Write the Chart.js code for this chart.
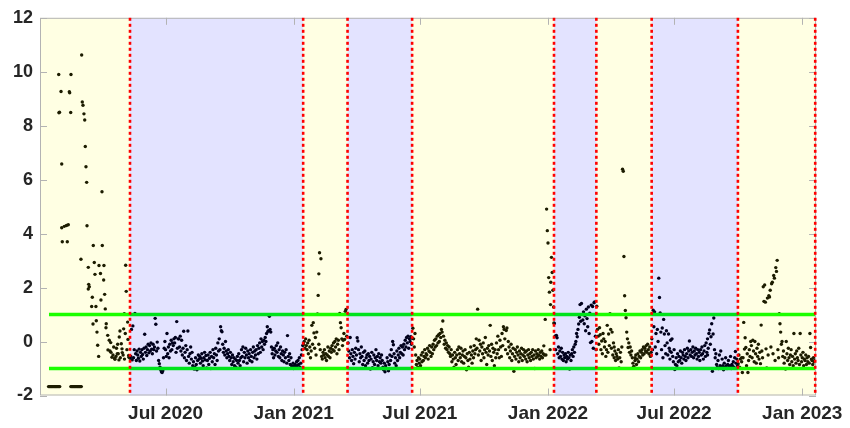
<!DOCTYPE html>
<html>
<head>
<meta charset="utf-8">
<script src="https://cdn.jsdelivr.net/npm/chart.js@4/dist/chart.umd.min.js"></script>
<style>
  html, body { margin: 0; padding: 0; background: #fff; }
  #wrap { width: 850px; height: 428px; }
</style>
</head>
<body>
<div id="wrap"><canvas id="chart"></canvas></div>
<script>
// x values are days counted from 1 Jan 2020
var xMin = 1.7, xMax = 1115.8;
var tickDays = [182, 366, 547, 731, 912, 1096];
var tickLabels = ['Jul 2020', 'Jan 2021', 'Jul 2021', 'Jan 2022', 'Jul 2022', 'Jan 2023'];

// red dotted period boundaries, shading alternates yellow / blue starting with yellow
var bandEdges = [130.9, 379.5, 443.2, 535.9, 739.6, 800.4, 879.8, 1003.6, 1114.6];
var limitLevels = [1, -1];
var limitFrom = 14.6, limitTo = 1114.6;

// flat values at the start
var flatDays = [14,15,16,17,18,19,20,21,22,23,24,25,26,27,28,29,30,
                46,47,48,49,50,51,52,53,54,55,56,57,58,59,60,61];
var flatValue = -1.67;

// first weeks, read point by point
var earlyDays = [28.6,46.2,61.5,31.9,43.8,44.3,29.7,28.9,45.8,62.4,63.4,64.8,65.9,66.7,32.9,67.7,68.7,90.7,
  32.9,36.6,39.7,42.3,69.2,33.7,40.9,78.2,91.1,60.5,79.6,71,86.4,93.5,124.7,80.6,88.5,93.1,
  71.6,72.5,71,125.5,76.8,94.5,89.2,75.9,82,95.4,122.7,82.5,77.8,96.8,96.4,127.5,83.5,121.8,116.5,
  124.1,98.9,101.1,103.2,115.5,118.4,113.2,119.4,128,84.5,85.9,99.3,102.2,103.6,106.5,108.9,110.8,
  112.6,115,105,109.3,119.8,129.4,129,126.5,117,121,111.5,107.5,114,123];
var earlyVals = [9.9,9.9,10.62,9.27,9.26,9.22,8.5,8.48,8.49,8.88,8.76,8.44,8.21,7.23,6.58,6.48,5.9,5.55,
  4.22,4.27,4.3,4.33,4.29,3.7,3.7,3.56,3.56,3.05,2.93,2.75,2.82,2.82,2.83,2.49,2.52,2.28,
  2.12,2.03,1.95,1.86,1.64,1.75,1.54,1.3,1.3,1.21,1.03,0.77,0.65,0.66,0.51,0.72,0.35,0.47,0.39,
  0.3,0.23,0.05,-0.04,0.17,-0.08,-0.1,-0.27,0.08,-0.14,-0.55,-0.31,-0.35,-0.4,-0.5,-0.62,-0.55,
  -0.45,-0.68,-0.58,-0.66,-0.41,-0.58,-0.52,-0.3,-0.6,-0.5,-0.25,-0.2,-0.45,-0.65];

// daily values, one array per period, each with its first day
var segStarts = [131, 380, 444, 537, 740, 801, 880, 1004];
var valsA = [
  -0.62,-0.55,0.45,-0.68,0.58,-0.6,-0.3,1.04,-0.45,-0.7,
  -0.35,-0.5,-0.62,-0.28,-0.72,-0.4,-0.55,-0.3,-0.48,-0.65,
  -0.25,0.27,-0.4,-0.2,-0.52,-0.3,-0.1,-0.42,-0.15,-0.35,
  -0.05,-0.28,-0.45,-0.1,-0.3,-0.2,0.86,0.64,-0.35,-0.02,
  -0.25,-0.7,-0.82,-0.95,-1.05,-1.12,-1.15,-1.08,-0.6,-0.25,
  0.0,-0.3,-0.55,0.3,-0.45,-0.2,-0.6,-0.1,-0.35,0.05,
  -0.3,-0.05,-0.15,0.1,-0.05,0.15,-0.4,0.74,-0.25,0.1,
  0.1,-0.2,0.2,-0.35,0.05,-0.5,-0.25,0.38,-0.6,-0.4,
  -0.15,-0.7,-0.3,0.39,-0.55,-0.8,-0.45,-0.2,-0.65,-0.4,
  -0.9,-0.75,-1.02,-0.95,-0.6,-0.85,-1.05,-0.7,-0.5,-0.65,
  -0.55,-0.8,-0.62,-0.45,-0.72,-0.9,-0.6,-0.4,-0.68,-0.52,
  -0.98,-0.7,-0.5,-0.85,-0.62,-0.4,-1.0,-0.55,-0.75,-0.3,
  -0.6,-0.45,-0.85,-0.25,-0.5,-0.7,-0.05,-0.35,0.1,-0.3,
  0.55,0.4,0.36,-0.1,-0.4,-0.25,-0.5,0.0,-0.35,-0.6,
  -0.45,-0.3,-0.55,-0.7,-0.4,-0.6,-0.85,-0.5,-0.75,-0.6,
  -0.9,-0.65,-0.95,-0.7,-0.55,-0.8,-0.45,-0.7,-0.9,-0.6,
  -0.3,-0.55,-0.2,-0.75,-0.4,-0.6,-0.25,-0.5,-0.8,-0.35,
  -0.6,-0.45,-0.7,-0.3,-0.55,-0.75,-0.4,-0.2,-0.6,-0.35,
  -0.5,-0.3,-0.65,-0.15,-0.45,-0.25,-0.05,-0.4,0.1,-0.2,
  0.0,-0.3,0.05,-0.1,0.15,0.0,0.3,0.55,0.38,0.4,
  0.94,0.45,0.35,-0.2,-0.45,-0.3,-0.6,-0.25,-0.5,-0.35,
  -0.15,-0.4,-0.05,-0.55,-0.3,-0.6,-0.2,-0.45,-0.7,-0.35,
  -0.5,-0.75,-0.4,-0.6,-0.3,-0.8,0.22,-0.55,-0.7,-0.45,
  -0.85,-0.6,-0.9,-0.95,-0.8,-1.0,-0.9,-0.85,-0.95,-0.75,
  -0.9,-0.7,-0.85,-0.6,-0.95,-0.8,-0.5,-0.3,-0.15];
var valsB = [
  -0.1,0.0,-0.25,0.1,-0.15,-0.3,-0.05,-0.45,0.05,-0.2,-0.6,
  -0.35,0.6,-0.1,0.7,0.32,-0.25,0.15,-0.5,0.35,1.02,
  1.71,-0.1,3.29,-0.3,3.07,-0.55,-0.65,-0.4,-0.5,-0.3,
  -0.6,-0.45,-0.7,-0.5,-0.2,-0.55,-0.35,-0.6,-0.25,-0.4,
  -0.15,-0.3,-0.05,-0.35,0.0,-0.2,0.1,-0.45,-0.1,0.05,
  -0.3,1.04,0.7,0.51,0.1,-0.15,0.05,0.3,0.08,1.12,1.19,0.2];
var valsC = [
  -0.05,-0.35,-0.6,0.15,-0.45,-0.7,-0.3,-0.55,-0.82,-0.4,
  -0.65,-0.25,-0.5,0.14,0.02,-0.3,-0.75,-0.45,-0.6,-0.2,
  -0.55,-0.85,-0.4,-0.7,-0.35,-0.9,-0.6,-0.5,-0.8,-0.45,
  -0.7,-0.55,-1.02,-0.65,-0.4,-0.97,-0.75,-0.5,-0.85,-0.6,
  -0.3,-0.7,-0.55,-0.9,-0.45,-0.75,-0.6,-0.8,-0.5,-0.7,
  -0.95,-1.05,-0.8,-1.12,-0.9,-1.0,-0.6,-0.75,-1.08,-0.85,
  -0.5,-0.7,-0.3,-0.55,0.0,-0.12,-0.45,-0.8,-0.6,-0.9,
  -0.35,-0.7,-0.5,-0.25,-0.6,-0.4,-0.15,-0.45,-0.2,-0.5,
  -0.1,-0.3,0.05,-0.2,0.15,-0.05,0.2,-0.25,0.1,0.0,0.18,-0.1,0.12];
var valsD = [
  0.49,0.1,-0.2,0.3,-0.5,-0.85,-0.7,-0.95,-0.6,-0.8,
  -0.65,-0.9,-0.5,-0.75,-0.4,-0.7,-0.55,-0.3,-0.6,-0.45,
  -0.5,-0.25,-0.65,-0.35,-0.15,-0.4,-0.55,-0.2,-0.45,-0.1,
  -0.3,0.05,-0.2,0.1,-0.15,0.2,-0.05,0.25,0.0,0.3,
  0.15,0.45,0.35,0.76,0.2,-0.1,0.05,-0.25,-0.05,-0.3,
  -0.15,-0.4,-0.2,-0.45,-0.55,-0.3,-0.75,-0.5,-0.65,-0.95,
  -0.4,-0.6,-0.85,-0.5,-0.3,-0.7,-0.2,-0.45,-0.6,-0.25,
  -0.75,-0.5,-0.35,-0.8,-0.55,-0.3,-0.6,-1.05,-0.45,-0.7,
  -0.95,-0.4,-0.65,-0.2,-0.5,-0.8,-0.35,-0.6,-0.15,-0.45,
  -0.3,0.1,-0.25,1.2,-0.5,0.05,-0.35,-0.1,-0.7,-0.2,
  -0.45,-0.05,-0.6,-0.3,0.15,-0.4,-0.85,-0.25,-0.5,-0.15,
  -0.35,0.6,-0.55,-0.1,-0.7,-0.25,-0.4,-0.9,-0.3,-0.6,
  -0.05,-0.45,0.2,-0.3,-0.6,0.05,-0.2,-0.55,0.3,-0.15,
  0.55,0.45,0.1,-0.3,0.41,0.5,-0.45,0.0,-0.2,-0.6,
  -0.35,-0.1,-0.7,-0.45,-0.25,-1.1,-0.55,-0.3,-0.65,-0.4,
  -0.2,-0.5,-0.75,-0.35,-0.6,-0.45,-0.25,-0.7,-0.5,-0.3,
  -0.55,-0.4,-0.65,-0.35,-0.75,-0.5,-0.3,-0.6,-0.45,-0.7,
  -0.4,-0.55,-0.3,-0.65,-0.5,-1.0,-0.35,-0.6,-0.45,-0.55,
  -0.3,-0.5,-0.65,-0.4,-0.55,-0.35,-0.6,-0.45,-0.16,-0.5,
  0.82,-0.5,4.91,4.11,3.65,2.37,1.83,-0.3,2.2,3.12,2.56,1.9,1.28];
var valsE = [
  0.67,0.2,-0.3,0.23,0.14,-0.45,-0.2,-0.6,-0.35,-0.55,
  -0.25,-0.65,-0.4,-0.7,-0.5,-0.6,-0.45,-0.75,-0.55,-0.65,
  -0.4,-0.6,-1.02,-0.5,-0.7,-0.45,-0.3,-0.55,-0.2,-0.4,
  -0.1,0.0,0.3,0.18,0.45,0.65,0.9,1.37,0.75,1.41,
  1.0,0.8,1.1,0.66,0.95,0.4,1.2,0.85,0.55,1.28,
  0.3,1.05,-0.04,1.35,0.0,1.3,-0.25,1.44,1.47,0.2,-0.3];
var valsF = [
  1.31,0.45,0.2,-0.1,0.51,0.25,-0.3,0.02,-0.45,0.3,
  0.1,-0.2,0.0,-0.55,-0.3,0.6,-0.4,0.28,-0.15,1.03,
  0.45,-0.25,0.35,-0.5,-0.05,-0.6,-0.35,-0.7,-0.45,-0.55,
  -0.65,-0.3,-0.98,-0.6,-0.4,-0.75,-0.2,6.39,6.31,3.15,
  1.7,1.15,0.88,0.35,0.1,-0.22,-0.05,-0.4,-0.2,-0.5,
  -0.35,-0.6,-0.8,-0.92,-0.98,-0.7,-0.5,-0.85,-0.65,-0.45,
  -0.75,-0.55,-0.35,-0.6,-0.4,-0.3,-0.5,-0.2,-0.45,-0.25,
  -0.35,-0.15,-0.4,-0.1,-0.3,-0.46,-0.2,-0.55,-0.4];
var valsG = [
  0.1,-0.3,1.16,0.55,1.1,-0.2,0.3,-0.45,0.45,0.0,
  2.35,1.63,1.06,0.35,-0.3,0.5,-0.6,0.82,0.28,-0.15,
  -0.45,0.4,-0.05,-0.5,0.28,-0.25,-0.65,0.05,-0.4,0.1,
  -0.55,-0.75,-0.3,-1.04,-0.85,-0.6,-0.9,-0.45,-0.75,-0.55,
  -0.7,-0.35,-0.6,-0.8,-0.4,-0.5,-0.65,-0.3,-0.55,-0.7,
  -0.45,-0.25,-0.6,-0.35,0.02,-0.5,-0.3,-0.55,-0.4,-0.2,
  -0.6,-0.35,-0.5,-0.25,-0.45,-0.65,-0.3,-0.55,-0.4,-0.7,
  -0.3,-0.5,-0.2,-0.45,-0.65,-0.35,-0.15,-0.55,-0.05,-0.4,
  0.1,-0.25,0.3,0.43,-0.1,0.18,0.66,-1.1,0.28,0.87,
  -0.3,-0.6,-0.45,-0.85,-0.95,-0.7,-1.0,-0.5,-0.9,-0.35,
  -0.95,-0.65,-0.9,-1.05,-0.8,-0.95,-0.6,-0.9,-1.0,-0.85,
  -0.7,-0.95,-0.9,-0.55,-1.0,-0.85,-0.92,-0.75,-0.95,-0.6,
  -0.37,-0.8,-0.65,-0.9];
var valsH = [
  -0.82,-0.5,-0.95,-0.65,-1.0,-0.75,-1.15,-0.6,0.71,-0.28,
  0.14,-0.22,-0.9,-0.45,-1.15,-0.7,-0.3,-0.55,0.0,-0.15,
  -0.6,0.05,-0.35,-0.75,0.0,-0.45,-0.8,-0.25,-0.55,-0.1,
  -0.65,-0.4,-0.82,0.61,-0.35,-0.6,2.03,1.49,2.1,1.46,
  -0.27,-0.98,1.61,-0.5,1.7,1.65,1.9,-0.2,2.14,2.2,
  -0.45,2.45,2.35,-0.7,2.74,2.6,3.01,-0.3,-0.6,1.03,
  0.66,0.35,-0.1,0.0,-0.55,-0.35,-0.8,-0.6,-1.02,0.0,
  -0.45,-0.7,-0.25,-0.6,-0.85,-0.5,-0.3,-0.75,-0.55,-0.9,
  0.3,-0.65,-0.45,-0.8,-0.35,-0.6,-0.7,-0.25,-0.85,0.3,
  -0.5,-0.75,-0.6,-0.4,-0.9,-0.65,-0.7,-0.5,-0.85,-0.6,
  -0.75,-0.55,-0.8,0.3,-0.22,-0.65,-0.7,-0.85,-0.6,-0.75,-0.7];

// second readings on the same day
var extraDays = [402, 734.5, 739.5, 826, 856, 906, 960, 1009];
var extraVals = [2.51, 1.37, 0.69, -0.2, -0.6, -0.35, -0.5, -0.6];

var points = [];
flatDays.forEach(function(d) { points.push({x: d, y: flatValue}); });
earlyDays.forEach(function(d, i) { points.push({x: d, y: earlyVals[i]}); });
[valsA, valsB, valsC, valsD, valsE, valsF, valsG, valsH].forEach(function(vals, s) {
  vals.forEach(function(v, i) { points.push({x: segStarts[s] + i, y: v}); });
});
extraDays.forEach(function(d, i) { points.push({x: d, y: extraVals[i]}); });

var limitSets = limitLevels.map(function(lv) {
  return {
    type: 'line',
    data: [{x: limitFrom, y: lv}, {x: limitTo, y: lv}],
    borderColor: '#00ff00',
    borderWidth: 3.5,
    pointRadius: 0,
    order: 1
  };
});

var FONT = '"Liberation Sans", Arial, Helvetica, sans-serif';

var periodPlugin = {
  id: 'periods',
  beforeDraw: function(chart) {
    var ctx = chart.ctx;
    ctx.save();
    ctx.fillStyle = '#ffffff';
    ctx.fillRect(0, 0, chart.width, chart.height);
    ctx.restore();
  },
  afterDatasetsDraw: function(chart) {
    var ctx = chart.ctx, a = chart.chartArea;
    var xs = chart.scales.x, ys = chart.scales.y;
    var edges = [xMin].concat(bandEdges);
    if (edges[edges.length - 1] < xMax) edges.push(xMax);
    ctx.save();
    // translucent period shading laid over the marks
    for (var i = 0; i < edges.length - 1; i++) {
      var x0 = xs.getPixelForValue(edges[i]);
      var x1 = xs.getPixelForValue(edges[i + 1]);
      ctx.fillStyle = i % 2 === 0 ? 'rgba(255,255,0,0.11)' : 'rgba(0,0,255,0.11)';
      ctx.fillRect(x0, a.top, x1 - x0, a.bottom - a.top);
    }
    // box and inward ticks
    ctx.strokeStyle = '#b3b3b3';
    ctx.lineWidth = 1;
    ctx.strokeRect(a.left + 0.5, a.top + 0.5, a.right - a.left - 1, a.bottom - a.top - 1);
    ctx.beginPath();
    tickDays.forEach(function(d) {
      var px = Math.round(xs.getPixelForValue(d)) + 0.5;
      ctx.moveTo(px, a.bottom); ctx.lineTo(px, a.bottom - 7);
      ctx.moveTo(px, a.top); ctx.lineTo(px, a.top + 7);
    });
    ys.ticks.forEach(function(t) {
      var py = Math.round(ys.getPixelForValue(t.value)) + 0.5;
      ctx.moveTo(a.left, py); ctx.lineTo(a.left + 7, py);
      ctx.moveTo(a.right, py); ctx.lineTo(a.right - 7, py);
    });
    ctx.stroke();
    // red dotted boundaries
    ctx.strokeStyle = '#ff0000';
    ctx.lineWidth = 2.6;
    ctx.setLineDash([3, 3]);
    bandEdges.forEach(function(d) {
      var px = xs.getPixelForValue(d);
      ctx.beginPath();
      ctx.moveTo(px, a.top);
      ctx.lineTo(px, a.bottom);
      ctx.stroke();
    });
    ctx.restore();
  }
};

new Chart(document.getElementById('chart'), {
  type: 'scatter',
  data: {
    datasets: [{
      data: points,
      backgroundColor: '#000000',
      borderWidth: 0,
      pointRadius: 1.7,
      order: 2
    }].concat(limitSets)
  },
  options: {
    responsive: true,
    maintainAspectRatio: false,
    animation: false,
    events: [],
    layout: { padding: { left: 0, top: 14, right: 33.5, bottom: 0 } },
    plugins: { legend: { display: false }, tooltip: { enabled: false } },
    scales: {
      x: {
        type: 'linear',
        min: xMin,
        max: xMax,
        afterBuildTicks: function(scale) {
          scale.ticks = tickDays.map(function(d) { return {value: d}; });
        },
        afterFit: function(scale) { scale.height = 32.5; },
        grid: { display: false, drawTicks: false },
        border: { display: false },
        ticks: {
          autoSkip: false,
          maxRotation: 0,
          padding: 7,
          color: '#262626',
          font: { family: FONT, size: 19, weight: 'bold' },
          callback: function(value, index) { return tickLabels[index]; }
        }
      },
      y: {
        min: -2,
        max: 12,
        afterFit: function(scale) { scale.width = 40; },
        grid: { display: false, drawTicks: false },
        border: { display: false },
        ticks: {
          stepSize: 2,
          padding: 7,
          color: '#262626',
          font: { family: FONT, size: 18, weight: 'bold' }
        }
      }
    }
  },
  plugins: [periodPlugin]
});
</script>
</body>
</html>
